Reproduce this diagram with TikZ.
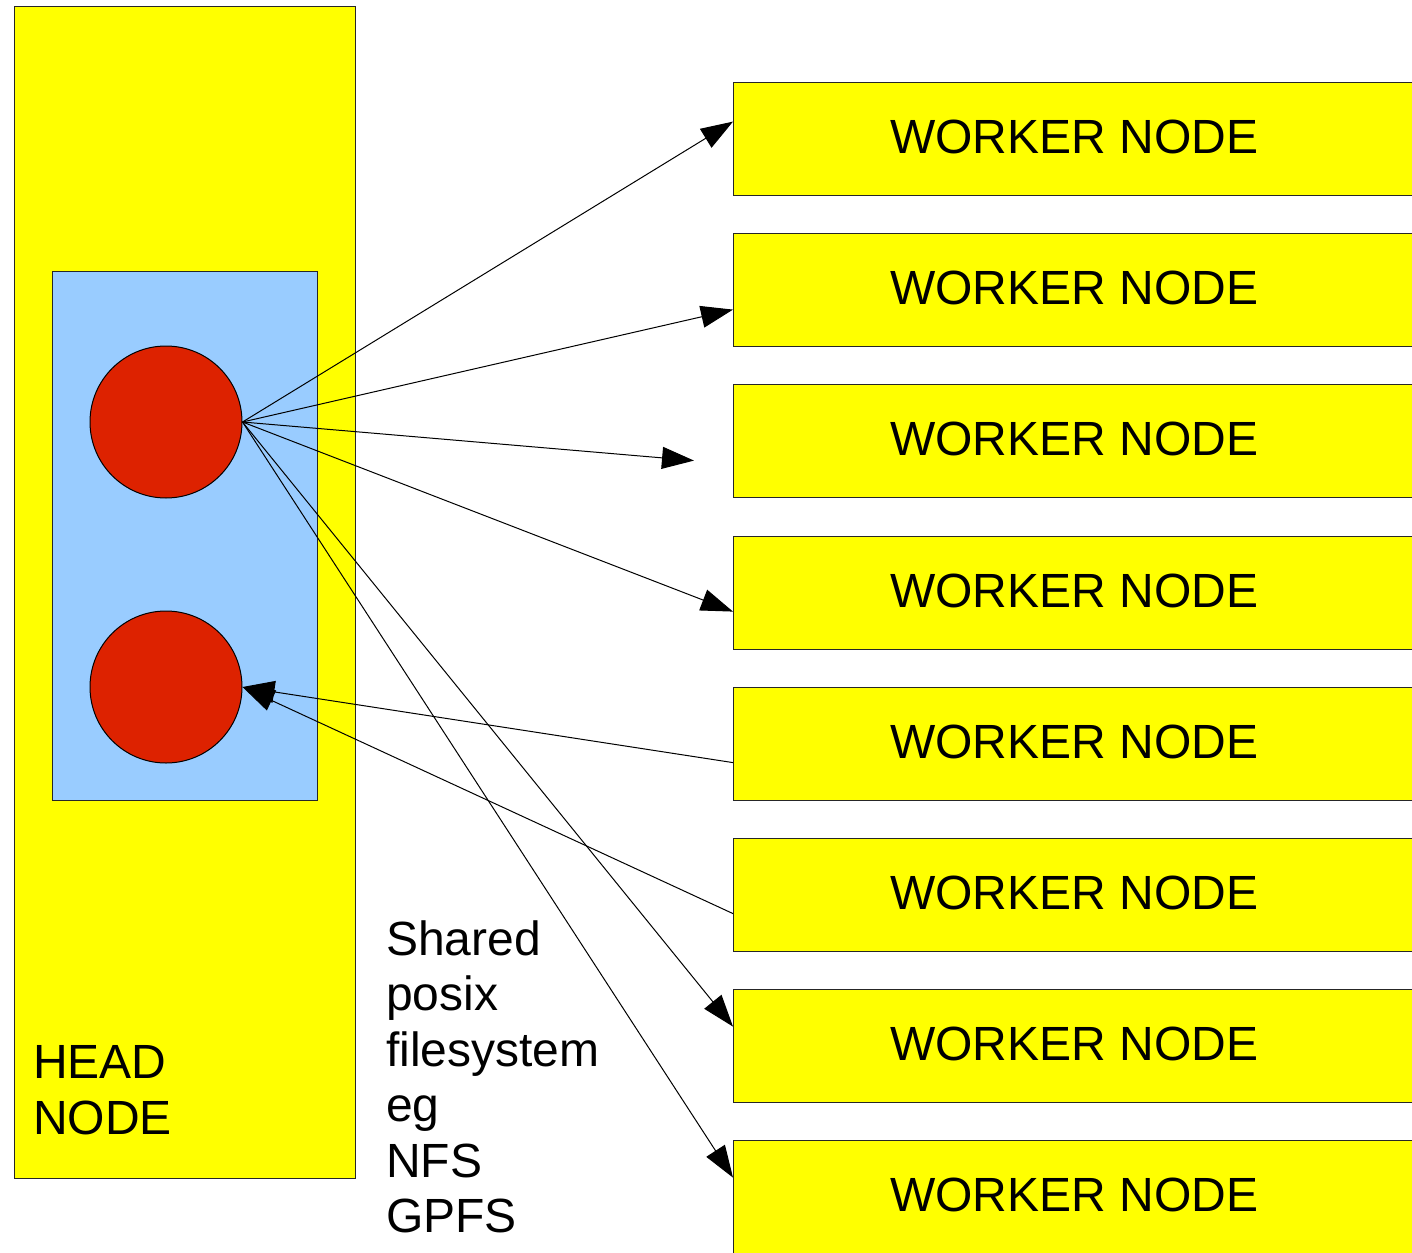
\documentclass[tikz,border=0pt]{standalone}
\usepackage{fontspec}
\setmainfont{Liberation Sans}
\usetikzlibrary{arrows.meta}
\definecolor{boxyellow}{HTML}{FFFF00}
\definecolor{boxblue}{HTML}{99CCFF}
\definecolor{ballred}{HTML}{DD2200}
\tikzset{
  box/.style={draw=black!85, line width=1.2pt, inner sep=0pt, anchor=north west},
  workerbox/.style={box, fill=boxyellow, minimum width=681pt, minimum height=113pt,
    font=\fontsize{48}{57}\selectfont, text depth=4pt},
  ball/.style={circle, draw=black, line width=1pt, fill=ballred, minimum size=152pt, inner sep=0pt},
  lbl/.style={anchor=base west, inner sep=0pt, font=\fontsize{48}{56}\selectfont},
  conn/.style={line width=1pt, -{Triangle[length=32pt,width=22pt]}},
}
\begin{document}
\begin{tikzpicture}[x=1pt,y=-1pt]
\useasboundingbox (0,0) rectangle (1412,1252);
\clip (0,0) rectangle (1412,1252);
% head node
\node[box, fill=boxyellow, minimum width=341pt, minimum height=1172pt] (head) at (14,6) {};
\node[box, fill=boxblue, minimum width=265pt, minimum height=529pt] (blue) at (52,271) {};
\node[ball] (c1) at (166,422) {};
\node[ball] (c2) at (166,687) {};
\node[lbl] (h1) at (33,1078) {HEAD};
\node[lbl] (h2) at (33,1134) {NODE};
% shared filesystem text
\node[lbl] (s1) at (386,955) {Shared};
\node[lbl] (s2) at (386,1010) {posix};
\node[lbl] (s3) at (386,1066) {filesystem};
\node[lbl] (s4) at (386,1121) {eg};
\node[lbl] (s5) at (386,1177) {NFS};
\node[lbl] (s6) at (386,1232) {GPFS};
% worker nodes
\node[workerbox] (w1) at (733,82) {WORKER NODE};
\node[workerbox] (w2) at (733,233) {WORKER NODE};
\node[workerbox] (w3) at (733,384) {WORKER NODE};
\node[workerbox] (w4) at (733,536) {WORKER NODE};
\node[workerbox] (w5) at (733,687) {WORKER NODE};
\node[workerbox] (w6) at (733,838) {WORKER NODE};
\node[workerbox] (w7) at (733,989) {WORKER NODE};
\node[workerbox] (w8) at (733,1140) {WORKER NODE};
\coordinate (t3) at ([xshift=-39pt,yshift=-19.5pt]w3.west);
% connectors
\draw[conn] (c1.east) -- ([yshift=17.5pt]w1.west);
\draw[conn] (c1.east) -- ([yshift=-19.5pt]w2.west);
\draw[conn] (c1.east) -- (t3);
\draw[conn] (c1.east) -- ([yshift=-18.5pt]w4.west);
\draw[conn] (c1.east) -- ([yshift=19.5pt]w7.west);
\draw[conn] (c1.east) -- ([yshift=19.5pt]w8.west);
\draw[conn] ([yshift=-18.5pt]w5.west) -- (c2.east);
\draw[conn] ([yshift=-18.5pt]w6.west) -- (c2.east);
\end{tikzpicture}
\end{document}
